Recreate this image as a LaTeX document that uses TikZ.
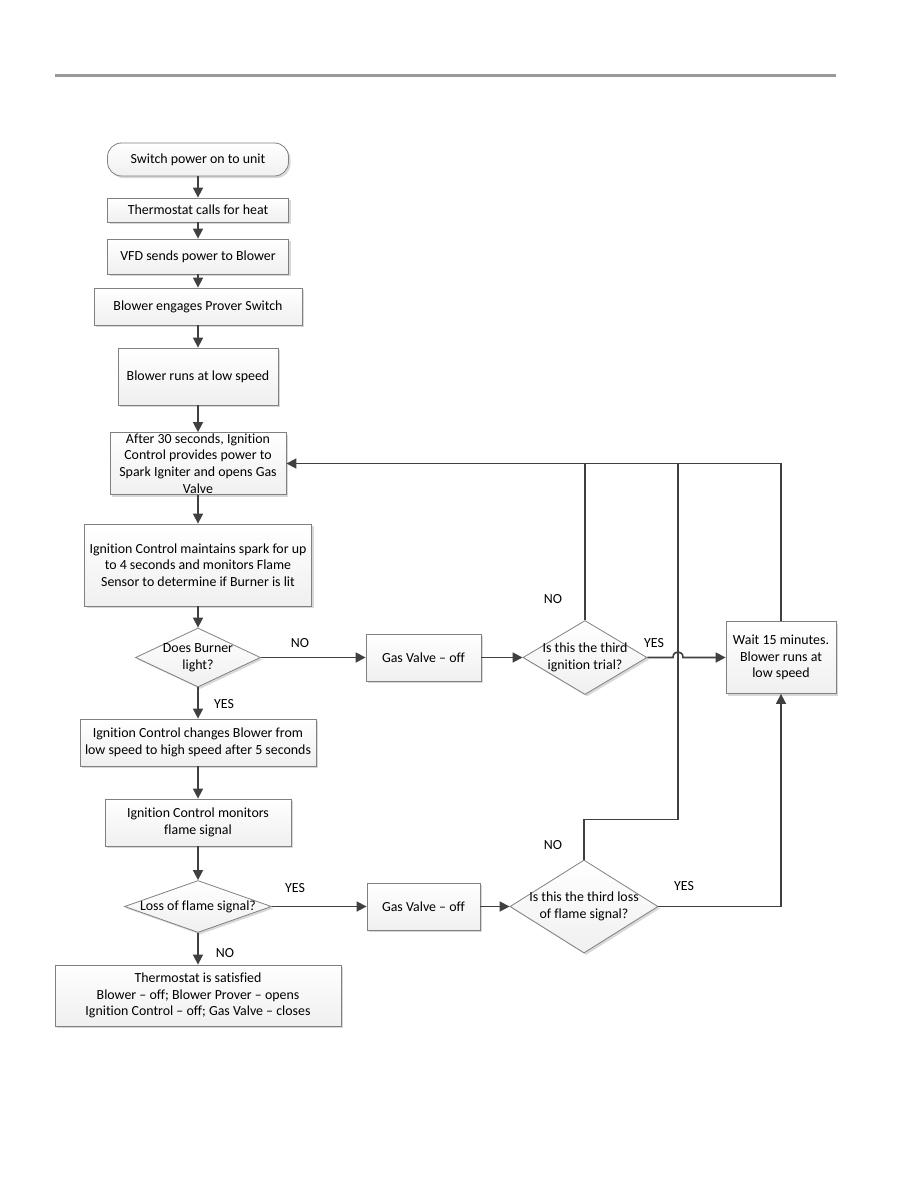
\documentclass[tikz,border=0pt]{standalone}
\usepackage{fontspec}
\setmainfont{Carlito}[Ligatures={TeX,NoCommon,NoContextual,NoRare}]
\usetikzlibrary{arrows.meta,shapes.geometric,shadows}
\begin{document}
\begin{tikzpicture}[x=1pt,y=-1pt,
  every node/.style={font=\fontsize{13.9}{16.7}\selectfont, text=black},
  shad/.style={drop shadow={shadow xshift=2pt,shadow yshift=-2pt,fill=black!30,opacity=0.5}},
  box/.style={shape=rectangle, draw=black!50, line width=0.8pt, top color=white, bottom color=black!6, inner sep=0pt, align=center, shad},
  term/.style={box, rounded corners=14pt},
  decision/.style={shape=diamond, draw=black!50, line width=0.8pt, top color=white, bottom color=black!6, inner sep=0pt, shad},
  dtext/.style={align=center, inner sep=0pt},
  lbl/.style={inner sep=0pt},
  conn/.style={draw=black!75, line width=1.6pt, -{Triangle[length=10pt,width=10pt]}},
  plain/.style={draw=black!75, line width=1.6pt}
]
\useasboundingbox (0,0) rectangle (918,1188);
\draw[line width=3pt, black!40] (55,76) -- (836,76);

% main column
\node[term, minimum width=181pt, minimum height=33pt] (n1) at (198,159.5) {Switch power on to unit};
\node[box, minimum width=181pt, minimum height=24pt] (n2) at (198,210) {Thermostat calls for heat};
\node[box, minimum width=181pt, minimum height=35pt] (n3) at (198,256.5) {VFD sends power to Blower};
\node[box, minimum width=208pt, minimum height=37pt] (n4) at (198,306.5) {Blower engages Prover Switch};
\node[box, minimum width=160pt, minimum height=57pt] (n5) at (198,376.5) {Blower runs at low speed};
\node[box, minimum width=176pt, minimum height=62pt] (n6) at (198,463.5) {After 30 seconds, Ignition\\Control provides power to\\Spark Igniter and opens Gas\\Valve};
\node[box, minimum width=227pt, minimum height=82pt] (n7) at (198,565) {Ignition Control maintains spark for up\\to 4 seconds and monitors Flame\\Sensor to determine if Burner is lit};
\node[decision, minimum width=125pt, minimum height=59pt] (d1) at (198,657.5) {};
\node[dtext] (d1t) at (d1) {Does Burner\\light?};
\node[box, minimum width=115pt, minimum height=47pt] (gv1) at (423.5,657.5) {Gas Valve -- off};
\node[decision, minimum width=124pt, minimum height=74pt] (d3) at (585,657.5) {};
\node[dtext] (d3t) at (d3) {Is this the third\\ignition trial?};
\node[box, minimum width=110pt, minimum height=72pt] (wait) at (781,657.5) {Wait 15 minutes.\\Blower runs at\\low speed};
\node[box, minimum width=236pt, minimum height=47pt] (n8) at (198,742.5) {Ignition Control changes Blower from\\low speed to high speed after 5 seconds};
\node[box, minimum width=186pt, minimum height=47pt] (n9) at (198,822.5) {Ignition Control monitors\\flame signal};
\node[decision, minimum width=147pt, minimum height=52pt] (d2) at (198,906.5) {};
\node[dtext] (d2t) at (d2) {Loss of flame signal?};
\node[box, minimum width=113pt, minimum height=47pt] (gv2) at (423.5,906.5) {Gas Valve -- off};
\node[decision, minimum width=148pt, minimum height=93pt] (d4) at (584,906.5) {};
\node[dtext] (d4t) at (d4) {Is this the third loss\\of flame signal?};
\node[box, minimum width=286pt, minimum height=61pt] (nf) at (198,995.5) {Thermostat is satisfied\\Blower -- off; Blower Prover -- opens\\Ignition Control -- off; Gas Valve -- closes};

% labels
\node[lbl] (l1) at (300,643) {NO};
\node[lbl] (l2) at (224,704) {YES};
\node[lbl] (l3) at (553,599) {NO};
\node[lbl] (l4) at (654,643) {YES};
\node[lbl] (l5) at (295,888) {YES};
\node[lbl] (l6) at (225,953) {NO};
\node[lbl] (l7) at (553,845) {NO};
\node[lbl] (l8) at (684,886) {YES};

\coordinate (j) at (678,463.5);
\coordinate (hopa) at (673,657.5);
\coordinate (hopb) at (683,657.5);

% connectors
\draw[conn] (n1) -- (n2);
\draw[conn] (n2) -- (n3);
\draw[conn] (n3) -- (n4);
\draw[conn] (n4) -- (n5);
\draw[conn] (n5) -- (n6);
\draw[conn] (n6) -- (n7);
\draw[conn] (n7) -- (d1);
\draw[conn] (d1) -- (n8);
\draw[conn] (d1) -- (gv1);
\draw[conn] (gv1) -- (d3);
\draw[conn] (d3.east) -- (hopa) .. controls (673,650) and (683,650) .. (hopb) -- (wait.west);
\draw[conn] (d3.north) |- (n6.east);
\draw[plain] (wait.north) |- (d3.north |- n6.east);
\draw[plain] (d4.north) -- ++(0,-40) -| (j);
\draw[conn] (n8) -- (n9);
\draw[conn] (n9) -- (d2);
\draw[conn] (d2) -- (nf);
\draw[conn] (d2) -- (gv2);
\draw[conn] (gv2) -- (d4);
\draw[conn] (d4.east) -| (wait.south);
\end{tikzpicture}
\end{document}
